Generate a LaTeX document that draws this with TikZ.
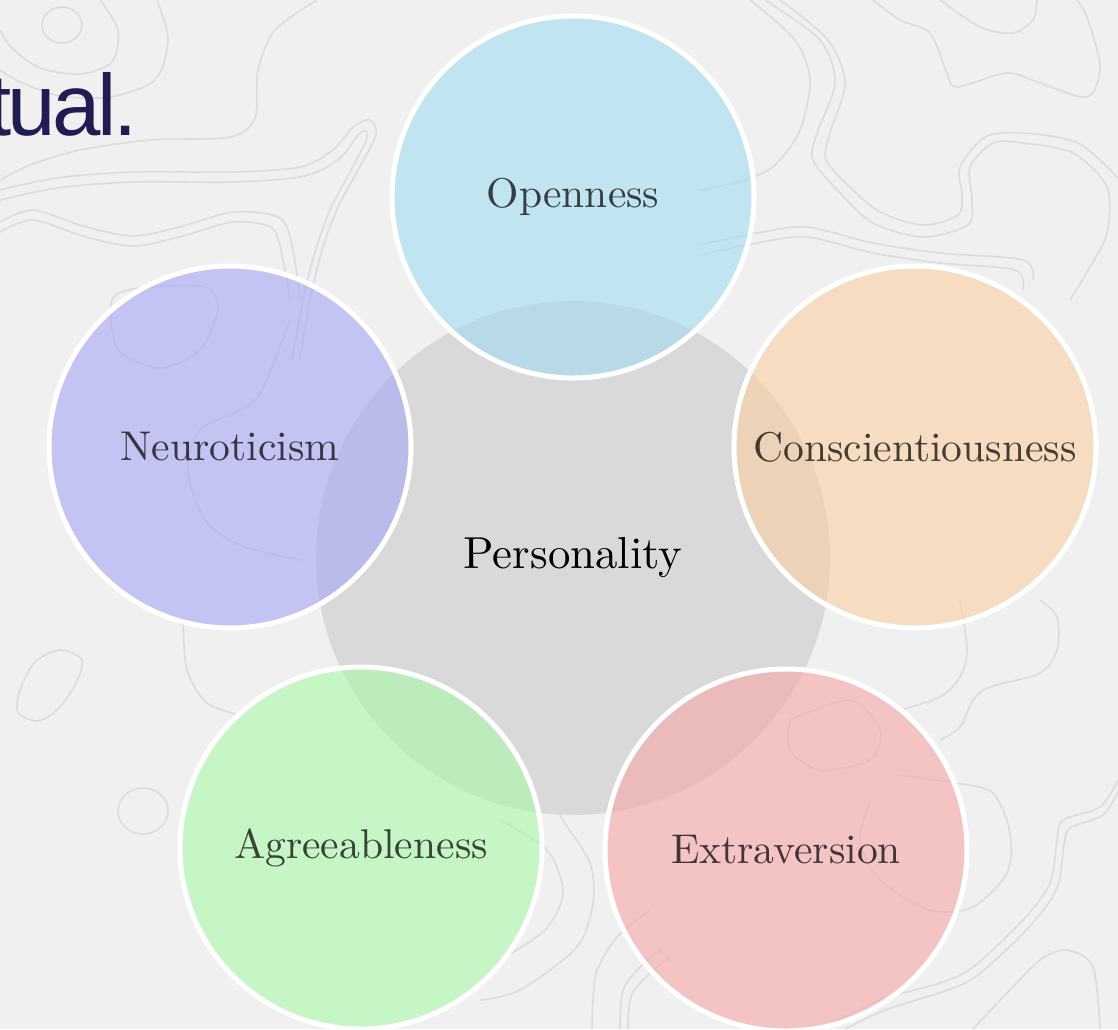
\documentclass[tikz,border=0pt]{standalone}
\usepackage{fontspec}
\newfontfamily\lmten{lmroman10-regular.otf}
\newfontfamily\titlesans[LetterSpace=-4]{Liberation Sans}
\definecolor{bgc}{HTML}{F0F0F0}
\definecolor{topoc}{HTML}{DCDCDC}
\definecolor{centerc}{HTML}{D9D9D9}
\definecolor{opc}{HTML}{A3DCF3}
\definecolor{csc}{HTML}{FACFA3}
\definecolor{nec}{HTML}{A7A7F7}
\definecolor{agc}{HTML}{AAFAAA}
\definecolor{exc}{HTML}{F8A7A7}
\definecolor{navy}{HTML}{211D52}
\begin{document}
\begin{tikzpicture}[x=0.5pt,y=-0.5pt,
  topo/.style={draw=topoc, line width=0.8pt},
  trait/.style={circle, minimum size=181pt, inner sep=0pt, fill opacity=0.6,
    draw=white, draw opacity=1, line width=2.5pt, text opacity=0.72,
    font=\lmten\fontsize{20.8}{25}\selectfont},
  core/.style={circle, minimum size=257pt, inner sep=0pt, fill=centerc,
    font=\lmten\fontsize{22.4}{27}\selectfont}]
\useasboundingbox (0,0) rectangle (1118,1029);
\fill[bgc] (0,0) rectangle (1118,1029);
% background contour lines
\draw[topo] (62,25) ellipse [x radius=10pt, y radius=9pt];
\draw[topo] plot[smooth] coordinates {(100,0) (118,30) (112,62) (80,74) (40,68) (12,48) (0,30)};
\draw[topo] plot[smooth] coordinates {(157,0) (168,40) (155,80) (110,97) (60,96) (20,82) (0,70)};
\draw[topo] plot[smooth] coordinates {(317,0) (275,30) (258,70) (255,118) (230,137) (150,140) (80,150) (30,165) (0,180)};
\draw[topo] plot[smooth] coordinates {(0,190) (57,178) (133,172) (233,172) (300,167) (333,150) (353,127) (370,120) (376,135) (358,170) (338,207) (322,250) (310,300) (300,360)};
\draw[topo] plot[smooth] coordinates {(0,200) (57,188) (133,182) (233,182) (305,176) (340,158) (358,135) (366,131) (366,141) (350,172) (330,210) (315,252) (303,300) (292,360)};
\draw[topo] plot[smooth] coordinates {(0,222) (33,210) (83,226) (133,236) (183,226) (233,212) (280,218) (293,250) (300,300)};
\draw[topo] plot[smooth] coordinates {(0,232) (33,220) (83,236) (133,246) (183,236) (233,222) (272,228) (283,260) (290,300)};
\draw[topo] plot[smooth cycle] coordinates {(112,300) (140,288) (205,287) (218,310) (200,350) (160,368) (118,350)};
\draw[topo] plot[smooth] coordinates {(290,320) (262,390) (240,410) (200,430) (188,470) (205,520) (240,545) (300,560)};
\draw[topo] plot[smooth] coordinates {(750,0) (795,40) (810,80) (800,130) (775,165) (745,180) (700,190)};
\draw[topo] plot[smooth] coordinates {(765,0) (820,40) (835,83) (817,133) (813,160) (840,193) (873,223) (923,237) (968,225) (972,200) (970,167) (993,143) (1023,143) (1073,153) (1107,187) (1107,233) (1090,267) (1070,300)};
\draw[topo] plot[smooth] coordinates {(780,0) (828,40) (845,83) (830,133) (826,160) (850,187) (880,212) (923,225) (958,215) (962,195) (960,167) (985,137) (1023,133) (1078,143) (1118,178)};
\draw[topo] plot[smooth] coordinates {(873,0) (900,20) (930,33) (947,73) (957,87) (1007,73) (1040,83) (1087,97) (1100,67) (1087,17) (1077,0)};
\draw[topo] plot[smooth] coordinates {(940,0) (980,27) (1013,33) (1033,20) (1037,0)};
\draw[topo] plot[smooth] coordinates {(700,245) (757,233) (807,227) (873,243) (940,253) (1023,260) (1033,280)};
\draw[topo] plot[smooth] coordinates {(700,255) (757,243) (807,237) (873,253) (940,263) (1015,270) (1023,290)};
\draw[topo] plot[smooth] coordinates {(960,600) (967,650) (960,677) (940,697) (900,710)};
\draw[topo] plot[smooth] coordinates {(1040,600) (1057,617) (1057,650) (1040,673) (990,687) (973,700) (960,727) (940,740)};
\draw[topo] plot[smooth] coordinates {(900,775) (955,783) (993,793) (1010,833) (1007,873) (973,907) (930,910) (880,880) (860,840) (870,800)};
\draw[topo] plot[smooth] coordinates {(1118,780) (1100,807) (1063,820) (1057,840) (1050,883) (1023,920) (973,967) (940,983) (880,1000) (820,1029)};
\draw[topo] plot[smooth] coordinates {(1118,792) (1103,815) (1070,828) (1064,845) (1057,888) (1030,926) (978,975) (945,991) (885,1010) (845,1029)};
\draw[topo] plot[smooth] coordinates {(973,1029) (1007,993) (1040,960) (1067,950) (1093,967) (1100,1029)};
\draw[topo] plot[smooth cycle] coordinates {(20,690) (35,662) (60,650) (82,660) (75,685) (57,710) (37,721) (18,712)};
\draw[topo] (143,811) ellipse [x radius=12.5pt, y radius=11.5pt];
\draw[topo] plot[smooth] coordinates {(183,620) (187,670) (207,703) (240,715)};
\draw[topo] plot[smooth] coordinates {(500,820) (547,850) (563,893) (545,930) (500,960)};
\draw[topo] plot[smooth] coordinates {(540,780) (563,820) (590,863) (593,903) (577,947) (520,990) (480,1000)};
\draw[topo] plot[smooth] coordinates {(650,910) (617,937) (597,970) (593,1000) (592,1029)};
\draw[topo] plot[smooth] coordinates {(660,950) (640,967) (623,990) (620,1029)};
\draw[topo] plot[smooth] coordinates {(668,958) (648,975) (631,996) (628,1029)};
\draw[topo] plot[smooth] coordinates {(790,720) (850,700) (880,730) (870,760) (820,770) (790,750) (790,720)};
% title fragment
\node[anchor=base east, inner sep=0pt, text=navy, font=\titlesans\fontsize{43.5}{50}\selectfont] (title) at (138,135) {tual.};
% central circle
\node[core] (pers) at (573,558) {};
% outer circles
\node[trait, fill=opc] (open) at (573,197) {Openness};
\node[trait, fill=csc] (consc) at (915,447) {Conscientiousness};
\node[trait, fill=exc] (extra) at (786,850) {Extraversion};
\node[trait, fill=agc] (agree) at (361,848) {Agreeableness};
\node[trait, fill=nec] (neuro) at (230,447) {Neuroticism};
\node[font=\lmten\fontsize{22.4}{27}\selectfont] (perslabel) at (pers.center) {Personality};
\end{tikzpicture}
\end{document}
